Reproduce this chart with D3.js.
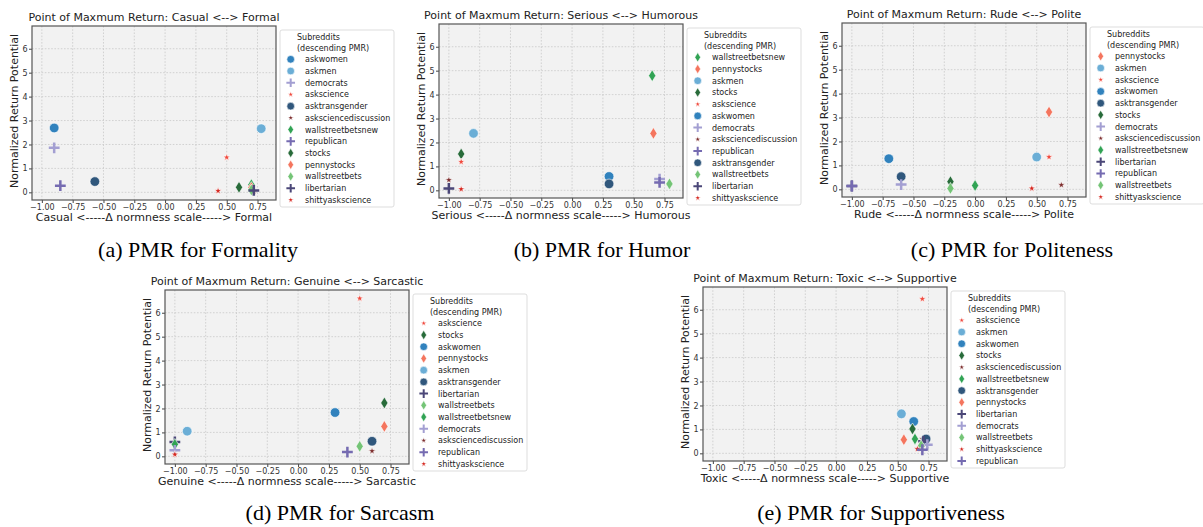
<!DOCTYPE html>
<html>
<head>
<meta charset="utf-8">
<script src="https://cdn.jsdelivr.net/npm/d3@7"></script>
<style>
  body { margin: 0; background: #fff; }
  svg { display: block; font-family: "DejaVu Sans", sans-serif; }
</style>
</head>
<body>
<svg id="fig" width="1203" height="527"></svg>
<script>
//------------------------------------------------------------------------------
// data

const xTicks = [-1, -0.75, -0.5, -0.25, 0, 0.25, 0.5, 0.75];
const yTicks = [0, 1, 2, 3, 4, 5, 6];

/** legend order = descending PMR = draw order */
const formalitySubs = ['askwomen', 'askmen', 'democrats', 'askscience', 'asktransgender',
  'asksciencediscussion', 'wallstreetbetsnew', 'republican', 'stocks', 'pennystocks',
  'wallstreetbets', 'libertarian', 'shittyaskscience'];
const formalityX = [-0.9, 0.78, -0.9, 0.5, -0.57, 0.72, 0.7, -0.85, 0.6, 0.7, 0.7, 0.72, 0.43];
const formalityY = [2.69, 2.66, 1.86, 1.46, 0.45, 0.05, 0.32, 0.28, 0.21, 0.2, 0.1, 0.08, 0.06];

const humorSubs = ['wallstreetbetsnew', 'pennystocks', 'askmen', 'stocks', 'askscience',
  'askwomen', 'democrats', 'asksciencediscussion', 'republican', 'asktransgender',
  'wallstreetbets', 'libertarian', 'shittyaskscience'];
const humorX = [0.65, 0.66, -0.8, -0.9, -0.9, 0.3, 0.71, -1.0, 0.71, 0.3, 0.79, -1.0, -0.9];
const humorY = [4.79, 2.38, 2.38, 1.52, 1.19, 0.58, 0.47, 0.43, 0.33, 0.27, 0.27, 0.08, 0.05];

const politenessSubs = ['pennystocks', 'askmen', 'askscience', 'askwomen', 'asktransgender',
  'stocks', 'democrats', 'asksciencediscussion', 'wallstreetbetsnew', 'libertarian',
  'republican', 'wallstreetbets', 'shittyaskscience'];
const politenessX = [0.6, 0.5, 0.6, -0.7, -0.6, -0.2, -0.6, 0.7, 0.0, -1.0, -1.0, -0.2, 0.46];
const politenessY = [3.23, 1.35, 1.35, 1.28, 0.53, 0.32, 0.2, 0.18, 0.16, 0.14, 0.14, 0.04, 0.04];

const sarcasmSubs = ['askscience', 'stocks', 'askwomen', 'pennystocks', 'askmen',
  'asktransgender', 'libertarian', 'wallstreetbets', 'wallstreetbetsnew', 'democrats',
  'asksciencediscussion', 'republican', 'shittyaskscience'];
const sarcasmX = [0.5, 0.7, 0.3, 0.7, -0.9, 0.6, -1.0, 0.5, -1.0, -1.0, 0.6, 0.4, -1.0];
const sarcasmY = [6.6, 2.23, 1.83, 1.25, 1.05, 0.63, 0.6, 0.42, 0.5, 0.25, 0.22, 0.18, 0.08];

const supportSubs = ['askscience', 'askmen', 'askwomen', 'stocks', 'asksciencediscussion',
  'wallstreetbetsnew', 'asktransgender', 'pennystocks', 'libertarian', 'democrats',
  'wallstreetbets', 'shittyaskscience', 'republican'];
const supportX = [0.7, 0.53, 0.63, 0.62, 0.7, 0.64, 0.73, 0.55, 0.71, 0.74, 0.69, 0.66, 0.7];
const supportY = [6.45, 1.65, 1.33, 1.02, 0.6, 0.6, 0.6, 0.57, 0.5, 0.36, 0.32, 0.18, 0.15];

const panelTitles = [
  'Point of Maxmum Return: Casual <--> Formal',
  'Point of Maxmum Return: Serious <--> Humorous',
  'Point of Maxmum Return: Rude <--> Polite',
  'Point of Maxmum Return: Genuine <--> Sarcastic',
  'Point of Maxmum Return: Toxic <--> Supportive',
];
const panelXLabels = [
  'Casual <-----\u0394 normness scale-----> Formal',
  'Serious <-----\u0394 normness scale-----> Humorous',
  'Rude <-----\u0394 normness scale-----> Polite',
  'Genuine <-----\u0394 normness scale-----> Sarcastic',
  'Toxic <-----\u0394 normness scale-----> Supportive',
];
const panelCaptions = [
  '(a) PMR for Formality',
  '(b) PMR for Humor',
  '(c) PMR for Politeness',
  '(d) PMR for Sarcasm',
  '(e) PMR for Supportiveness',
];
const yLabel = 'Normalized Return Potential';
const legendTitle = ['Subreddits', '(descending PMR)'];

//------------------------------------------------------------------------------
// styles

/** colour and marker per subreddit */
const subStyle = {
  askwomen:             { color: '#3182bd', marker: 'circle' },
  askmen:               { color: '#6baed6', marker: 'circle' },
  asktransgender:       { color: '#30577c', marker: 'circle' },
  democrats:            { color: '#a39fd2', marker: 'plus' },
  republican:           { color: '#756bb1', marker: 'plus' },
  libertarian:          { color: '#4b4778', marker: 'plus' },
  askscience:           { color: '#f0493d', marker: 'star' },
  asksciencediscussion: { color: '#7d2d2d', marker: 'star' },
  shittyaskscience:     { color: '#d62a22', marker: 'star' },
  wallstreetbetsnew:    { color: '#31a354', marker: 'diamond' },
  stocks:               { color: '#286b3a', marker: 'diamond' },
  pennystocks:          { color: '#f4755e', marker: 'diamond' },
  wallstreetbets:       { color: '#74c476', marker: 'diamond' },
};

const W = 244, H = 174;
const xDomain = [-1.08, 0.9], yDomain = [-0.32, 6.95];

/** plot-area top-left of each panel */
const panelBoxes = [
  { left: 32, top: 26 },
  { left: 439, top: 24 },
  { left: 842, top: 23 },
  { left: 165, top: 290 },
  { left: 703, top: 287 },
];
const captionPos = [
  { x: 198, y: 257 }, { x: 602, y: 257 }, { x: 1012, y: 257 },
  { x: 340, y: 520 }, { x: 881, y: 520 },
];

//------------------------------------------------------------------------------

function markerPath(marker, k) {
  const p = d3.path();
  if (marker === 'circle') {
    const r = 4.8 * k;
    p.moveTo(r, 0); p.arc(0, 0, r, 0, 2 * Math.PI);
  } else if (marker === 'diamond') {
    const hw = 3.6 * k, hh = 5.9 * k;
    p.moveTo(0, -hh); p.lineTo(hw, 0); p.lineTo(0, hh); p.lineTo(-hw, 0); p.closePath();
  } else if (marker === 'star') {
    const ro = 3.8 * k, ri = ro * 0.4;
    for (let i = 0; i < 10; i++) {
      const a = -Math.PI / 2 + i * Math.PI / 5, r = i % 2 ? ri : ro;
      i ? p.lineTo(r * Math.cos(a), r * Math.sin(a)) : p.moveTo(r * Math.cos(a), r * Math.sin(a));
    }
    p.closePath();
  } else if (marker === 'plus') {
    const a = 5.4 * k;
    p.moveTo(-a, 0); p.lineTo(a, 0); p.moveTo(0, -a); p.lineTo(0, a);
  }
  return p.toString();
}

function styleMarker(sel, k) {
  sel
    .attr('d', d => markerPath(subStyle[d].marker, k))
    .attr('fill', d => subStyle[d].marker === 'plus' ? 'none' : subStyle[d].color)
    .attr('stroke', d => subStyle[d].marker === 'plus' ? subStyle[d].color : '#fff')
    .attr('stroke-width', d => subStyle[d].marker === 'plus' ? 2.5 * k : 0.6);
}

const svg = d3.select('#fig');

const panels = [
  { subs: formalitySubs, xs: formalityX, ys: formalityY },
  { subs: humorSubs, xs: humorX, ys: humorY },
  { subs: politenessSubs, xs: politenessX, ys: politenessY },
  { subs: sarcasmSubs, xs: sarcasmX, ys: sarcasmY },
  { subs: supportSubs, xs: supportX, ys: supportY },
];

panels.forEach((pd, i) => drawPanel(pd, i));

function drawPanel(pd, i) {
  const
  box = panelBoxes[i],
  g = svg.append('g').attr('transform', `translate(${box.left},${box.top})`),
  x = d3.scaleLinear().domain(xDomain).range([0, W]),
  y = d3.scaleLinear().domain(yDomain).range([H, 0]);

  g.append('rect').attr('width', W).attr('height', H).attr('fill', '#f2f2f2');

  // dotted grid
  const grid = g.append('g').attr('stroke', '#c9c9c9').attr('stroke-width', 0.8)
    .attr('stroke-dasharray', '1.6,1.6');
  grid.selectAll('line.gx').data(xTicks).join('line').attr('class', 'gx')
    .attr('x1', x).attr('x2', x).attr('y1', 0).attr('y2', H);
  grid.selectAll('line.gy').data(yTicks).join('line').attr('class', 'gy')
    .attr('y1', y).attr('y2', y).attr('x1', 0).attr('x2', W);

  const xAxis = g.append('g').attr('transform', `translate(0,${H})`)
    .call(d3.axisBottom(x).tickValues(xTicks).tickFormat(d3.format('.2f'))
      .tickSize(3).tickPadding(1.5));
  const yAxis = g.append('g')
    .call(d3.axisLeft(y).tickValues(yTicks).tickFormat(d3.format('d'))
      .tickSize(3).tickPadding(1.5));
  [xAxis, yAxis].forEach(a => {
    a.select('.domain').remove();
    a.selectAll('line').attr('stroke', '#444');
    a.selectAll('text').attr('font-size', 8).attr('fill', '#333')
      .attr('font-family', '"DejaVu Sans", sans-serif');
  });

  g.append('rect').attr('width', W).attr('height', H).attr('fill', 'none')
    .attr('stroke', '#555').attr('stroke-width', 1.2);

  // points, in legend order
  const pts = pd.subs.map((s, j) => ({ s, x: pd.xs[j], y: pd.ys[j] }));
  g.append('g').selectAll('path').data(pts).join('path')
    .attr('transform', d => `translate(${x(d.x)},${y(d.y)})`)
    .each(function (d) { styleMarker(d3.select(this).datum(d.s), 1); });

  // labels
  g.append('text').attr('x', W / 2).attr('y', -5.5).attr('text-anchor', 'middle')
    .attr('font-size', 11).attr('fill', '#222').text(panelTitles[i]);
  g.append('text').attr('x', W / 2).attr('y', H + 20.5).attr('text-anchor', 'middle')
    .attr('font-size', 11).attr('fill', '#222').text(panelXLabels[i]);
  g.append('text').attr('transform', `translate(-14,${H / 2 - 2}) rotate(-90)`)
    .attr('text-anchor', 'middle').attr('font-size', 11).attr('fill', '#222').text(yLabel);

  // legend
  const lg = g.append('g').attr('transform', `translate(${W + 4},4)`);
  lg.append('rect').attr('width', 114).attr('height', 177).attr('rx', 2)
    .attr('fill', '#fff').attr('fill-opacity', 0.85).attr('stroke', '#d4d4d4').attr('stroke-width', 0.8);
  legendTitle.forEach((t, k) => lg.append('text').attr('x', 17).attr('y', 10.2 + k * 10.4)
    .attr('font-size', 8).attr('fill', '#222').text(t));
  const items = lg.selectAll('g.item').data(pd.subs).join('g').attr('class', 'item')
    .attr('transform', (d, j) => `translate(0,${29.3 + j * 11.72})`);
  items.append('path').attr('transform', 'translate(10.7,0)')
    .each(function (d) { styleMarker(d3.select(this), 0.8); });
  items.append('text').attr('x', 25).attr('y', 2.9).attr('font-size', 8).attr('fill', '#222')
    .text(d => d);

  svg.append('text').attr('x', captionPos[i].x).attr('y', captionPos[i].y)
    .attr('text-anchor', 'middle').attr('font-family', '"Liberation Serif", serif')
    .attr('font-size', 22).attr('fill', '#000').text(panelCaptions[i]);
}
</script>
</body>
</html>
